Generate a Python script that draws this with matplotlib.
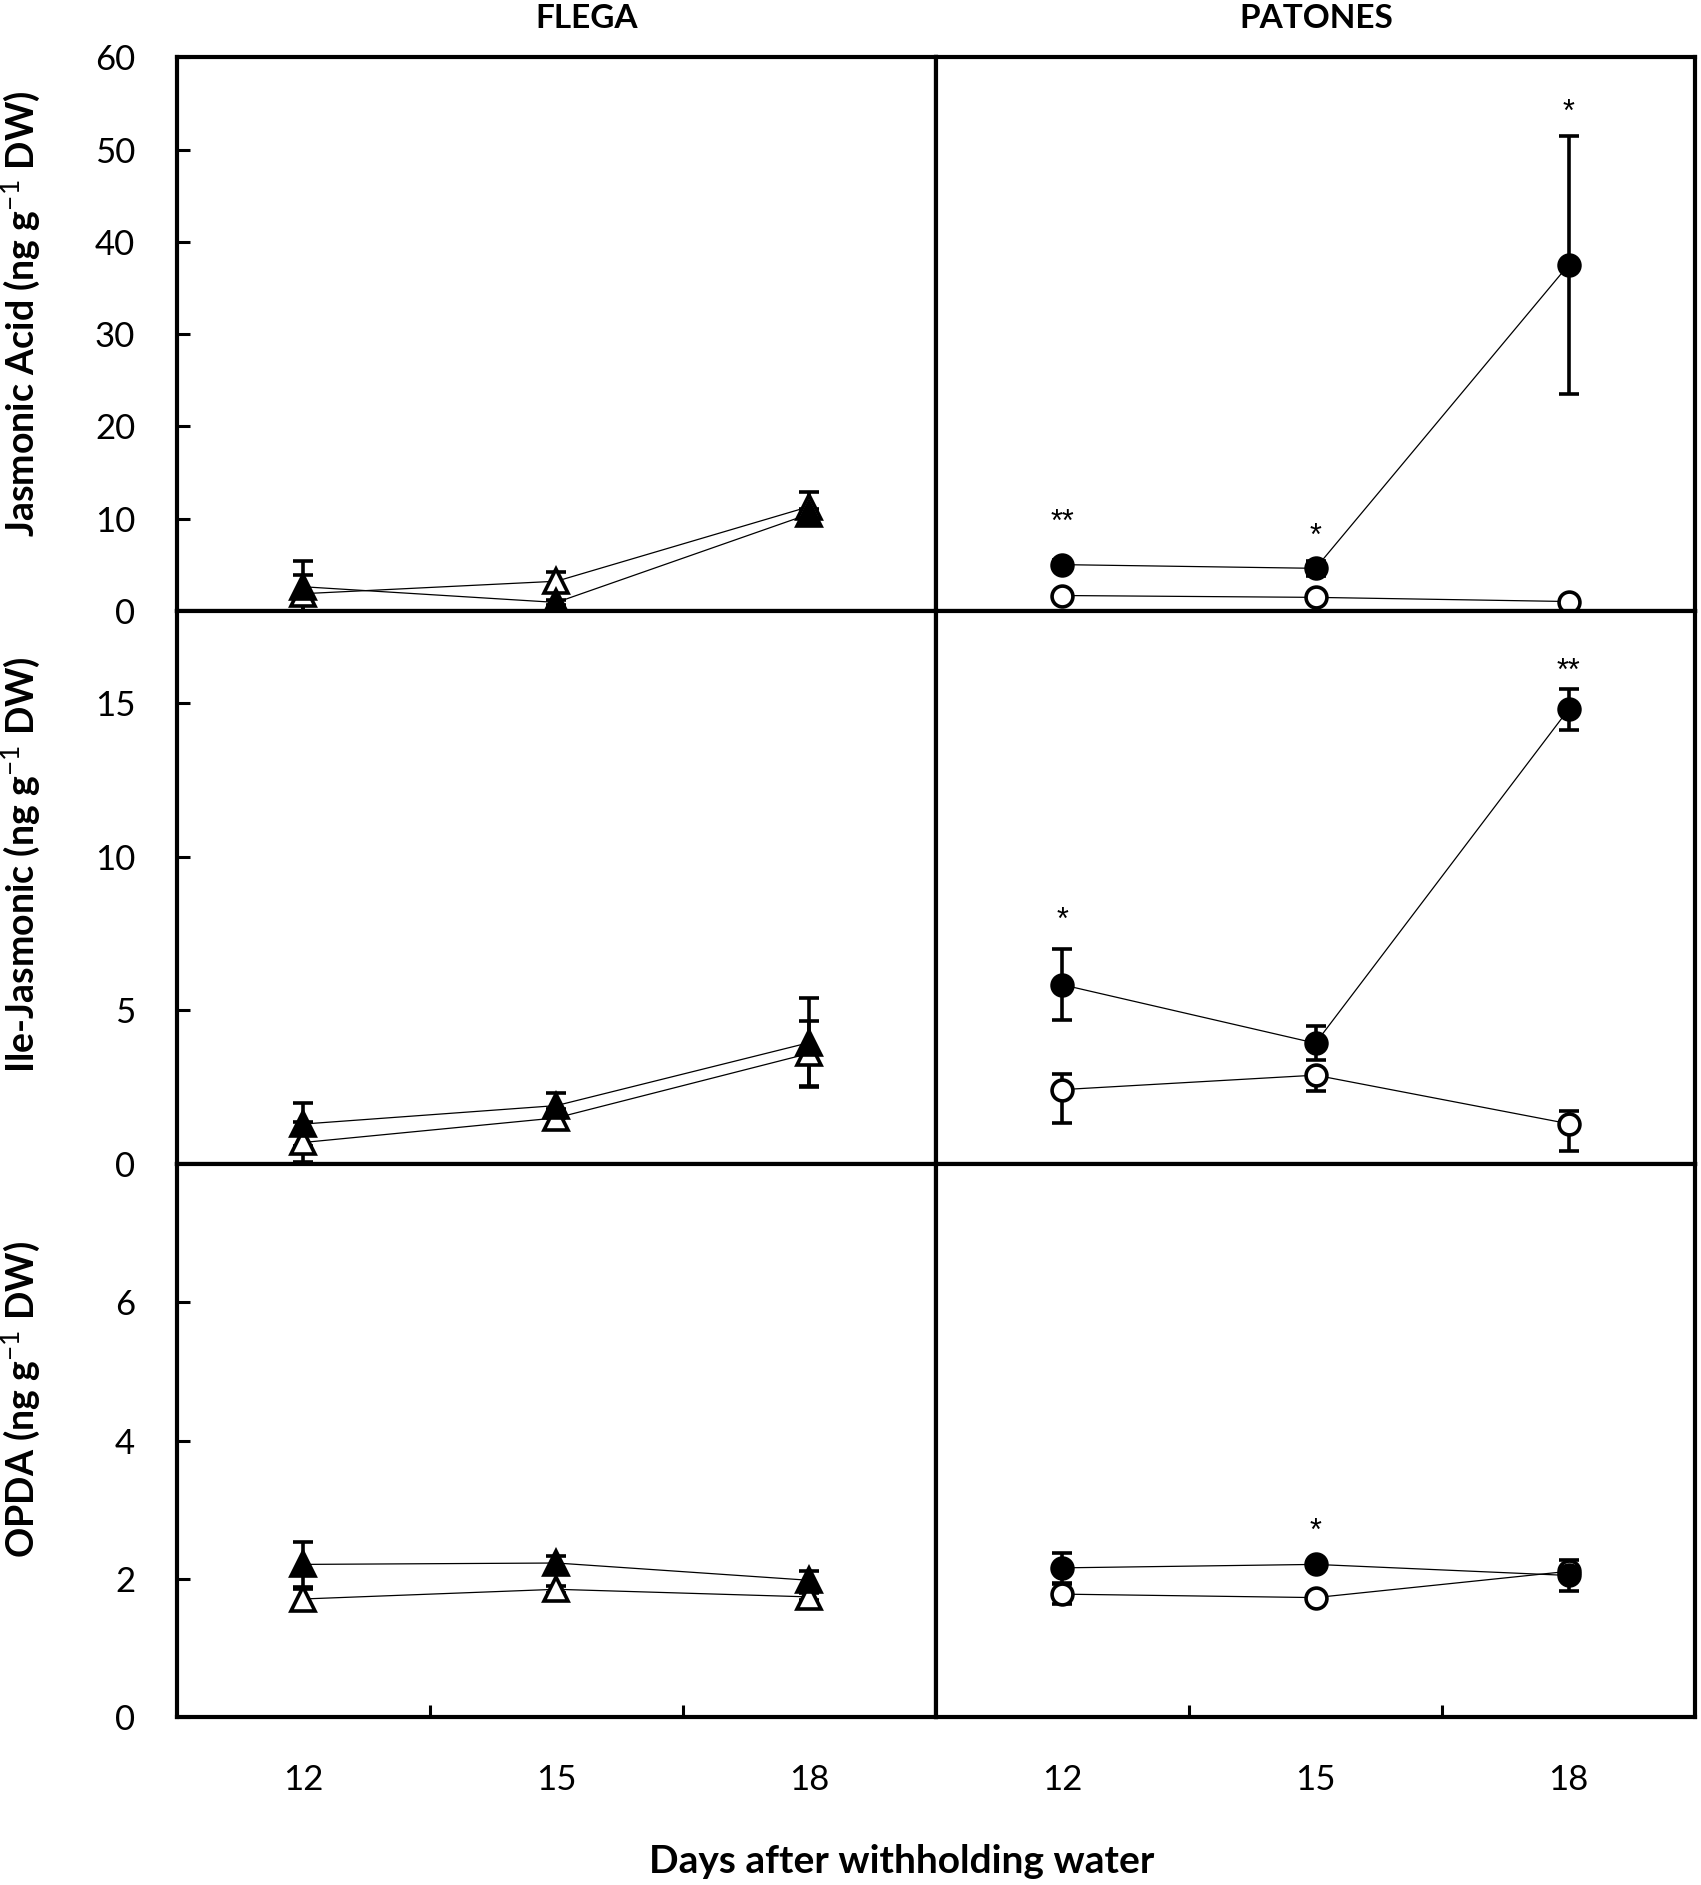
import matplotlib
matplotlib.use("Agg")
import matplotlib.pyplot as plt

days = [12, 15, 18]

# FLEGA (triangles): filled = water withheld, open = control
fl_ja_fill = [2.6, 0.9, 10.5]
fl_ja_fill_err = [2.8, 0.3, 0.5]
fl_ja_open = [1.85, 3.2, 11.3]
fl_ja_open_err = [2.05, 1.0, 1.6]

fl_ile_fill = [1.3, 1.9, 3.95]
fl_ile_fill_err = [0.7, 0.4, 1.45]
fl_ile_open = [0.7, 1.5, 3.6]
fl_ile_open_err = [0.65, 0.3, 1.05]

fl_opda_fill = [2.21, 2.23, 1.98]
fl_opda_fill_err = [0.33, 0.1, 0.13]
fl_opda_open = [1.71, 1.85, 1.74]
fl_opda_open_err = [0.14, 0.05, 0.05]

# PATONES (circles)
pa_ja_fill = [5.0, 4.6, 37.5]
pa_ja_fill_err = [0.5, 0.8, 14.0]
pa_ja_open = [1.65, 1.45, 1.0]
pa_ja_open_err = [0.3, 0.3, 0.3]

pa_ile_fill = [5.83, 3.93, 14.79]
pa_ile_fill_err = [1.15, 0.55, 0.66]
pa_ile_open = [2.42, 2.89, 1.31]
pa_ile_open_err_lo = [1.1, 0.5, 0.9]
pa_ile_open_err_hi = [0.5, 0.1, 0.4]

pa_opda_fill = [2.16, 2.21, 2.05]
pa_opda_fill_err = [0.22, 0.05, 0.22]
pa_opda_open = [1.78, 1.73, 2.11]
pa_opda_open_err = [0.14, 0.05, 0.05]

# significance marks (day, y, text)
pa_ja_stars = [(12, 9.5, "**"), (15, 8.0, "*"), (18, 54.0, "*")]
pa_ile_stars = [(12, 7.9, "*"), (18, 16.0, "**")]
pa_opda_stars = [(15, 2.68, "*")]

ylabels = ["Jasmonic Acid (ng g$^{-1}$ DW)", "Ile-Jasmonic (ng g$^{-1}$ DW)", "OPDA (ng g$^{-1}$ DW)"]
ylims = [60, 18, 8]
yticks = [[0, 10, 20, 30, 40, 50, 60], [0, 5, 10, 15], [0, 2, 4, 6]]

plt.rcParams['font.family'] = ['Lato', 'DejaVu Sans']
plt.rcParams['mathtext.fontset'] = 'custom'
plt.rcParams['mathtext.rm'] = 'Lato'
plt.rcParams['mathtext.bf'] = 'Lato:bold'

fig = plt.figure(figsize=(17.01, 18.85), dpi=100)
gs = fig.add_gridspec(3, 2, left=0.104, right=0.9965, top=0.9695, bottom=0.089, hspace=0, wspace=0)
axes = [[fig.add_subplot(gs[r, c]) for c in range(2)] for r in range(3)]

data = [
    [(fl_ja_fill, fl_ja_fill_err, fl_ja_open, fl_ja_open_err, None),
     (pa_ja_fill, pa_ja_fill_err, pa_ja_open, pa_ja_open_err, pa_ja_stars)],
    [(fl_ile_fill, fl_ile_fill_err, fl_ile_open, fl_ile_open_err, None),
     (pa_ile_fill, pa_ile_fill_err, pa_ile_open, [pa_ile_open_err_lo, pa_ile_open_err_hi], pa_ile_stars)],
    [(fl_opda_fill, fl_opda_fill_err, fl_opda_open, fl_opda_open_err, None),
     (pa_opda_fill, pa_opda_fill_err, pa_opda_open, pa_opda_open_err, pa_opda_stars)],
]

for r in range(3):
    for c in range(2):
        ax = axes[r][c]
        fill, fill_err, opn, opn_err, stars = data[r][c]
        mk = '^' if c == 0 else 'o'
        ms = 17 if c == 0 else 15
        common = dict(color='black', lw=0.9, elinewidth=2.6, capsize=7, capthick=2.6,
                      marker=mk, ms=ms, mec='black', mew=2.6)
        ax.errorbar(days, opn, yerr=opn_err, mfc='white', **common)
        ax.errorbar(days, fill, yerr=fill_err, mfc='black', **common)
        if stars:
            for d, y, s in stars:
                ax.text(d, y, s, ha='center', va='center', fontsize=22, family='Liberation Sans')
        ax.set_xlim(10.5, 19.5)
        ax.set_ylim(0, ylims[r])
        for sp in ax.spines.values():
            sp.set_linewidth(3)
        ax.set_xticks(days)
        ax.set_xticks([13.5, 16.5], minor=True)
        if r == 2:
            ax.tick_params(axis='x', which='major', length=0, labelsize=25, pad=34)
            ax.tick_params(axis='x', which='minor', direction='in', length=9, width=2.2)
        else:
            ax.tick_params(axis='x', which='both', length=0, labelbottom=False)
        if c == 0:
            ax.set_yticks(yticks[r])
            ax.tick_params(axis='y', direction='in', length=9, width=2.2, labelsize=25, pad=30)
        else:
            ax.set_yticks([])

fig.text(0.345, 0.990, "FLEGA", ha='center', va='center', fontsize=24, fontweight='bold')
fig.text(0.7737, 0.990, "PATONES", ha='center', va='center', fontsize=24, fontweight='bold')

ylab_y = [1 - 314 / 1885, 1 - 865 / 1885, 1 - 1399 / 1885]
for lab, y in zip(ylabels, ylab_y):
    fig.text(0.0125, y, lab, rotation=90, ha='center', va='center', fontsize=27, fontweight='bold')

fig.text(0.53, 0.0125, "Days after withholding water", ha='center', va='center', fontsize=28, fontweight='bold')

fig.savefig("out.png", dpi=100)
